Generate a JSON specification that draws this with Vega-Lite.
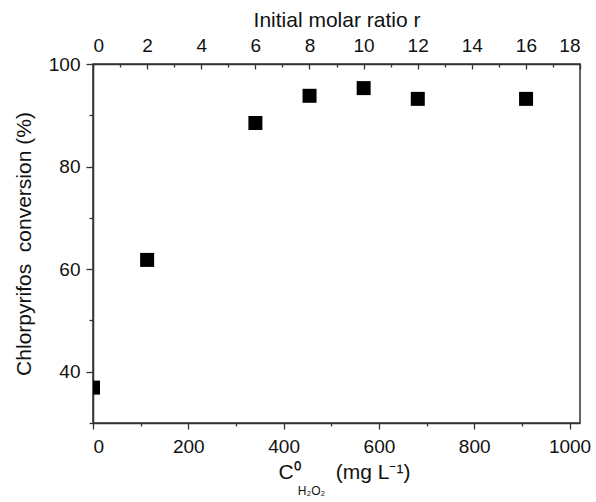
{
  "$schema": "https://vega.github.io/schema/vega-lite/v6.json",
  "width": 487,
  "height": 359,
  "autosize": "none",
  "padding": {"left": 93, "top": 64, "right": 16, "bottom": 79},
  "background": "white",
  "config": {
    "font": "Liberation Sans",
    "view": {"stroke": "#333", "strokeWidth": 1.5},
    "axis": {
      "grid": false,
      "domainColor": "#333",
      "domainWidth": 1.5,
      "tickColor": "#333",
      "tickWidth": 1.3,
      "labelFont": "Liberation Sans",
      "labelFontSize": 19,
      "labelColor": "#111",
      "titleFont": "Liberation Sans",
      "titleFontSize": 21,
      "titleFontWeight": "normal",
      "titleColor": "#111"
    }
  },
  "title": {
    "text": "H₂O₂",
    "orient": "bottom",
    "anchor": "middle",
    "fontSize": 12,
    "fontWeight": "normal",
    "font": "Liberation Sans",
    "color": "#111",
    "dx": -25,
    "offset": 4
  },
  "data": {
    "values": [
      {"C": 0, "r": 0, "conversion": 36.9},
      {"C": 113.6, "r": 2, "conversion": 61.8},
      {"C": 340.8, "r": 6, "conversion": 88.5},
      {"C": 454.4, "r": 8, "conversion": 93.8},
      {"C": 568, "r": 10, "conversion": 95.3},
      {"C": 681.6, "r": 12, "conversion": 93.2},
      {"C": 908.8, "r": 16, "conversion": 93.2}
    ]
  },
  "layer": [
    {
      "mark": {"type": "point", "shape": "square", "filled": true, "size": 196, "color": "#000", "opacity": 1, "clip": true},
      "encoding": {
        "x": {
          "field": "C",
          "type": "quantitative",
          "scale": {"domain": [0, 1022], "nice": false, "zero": false},
          "axis": {
            "orient": "bottom",
            "values": [0, 100, 200, 300, 400, 500, 600, 700, 800, 900, 1000],
            "format": "d",
            "labelExpr": "datum.value % 200 === 0 ? datum.label : ''",
            "tickSize": {"condition": {"test": "datum.value % 200 === 0", "value": 6}, "value": 3},
            "labelPadding": 8,
            "title": "C⁰\u00a0\u00a0\u00a0\u00a0\u00a0 (mg L⁻¹)",
            "titleX": 251,
            "titlePadding": 5
          }
        },
        "y": {
          "field": "conversion",
          "type": "quantitative",
          "scale": {"domain": [30, 100], "nice": false, "zero": false},
          "axis": {
            "values": [30, 40, 50, 60, 70, 80, 90, 100],
            "labelExpr": "datum.value % 20 === 0 ? datum.label : ''",
            "tickSize": {"condition": {"test": "datum.value % 20 === 0", "value": 7}, "value": 4},
            "labelPadding": 6,
            "title": "Chlorpyrifos\u00a0 conversion (%)",
            "titlePadding": 14
          }
        }
      }
    },
    {
      "mark": {"type": "point", "opacity": 0},
      "encoding": {
        "x": {
          "field": "r",
          "type": "quantitative",
          "scale": {"domain": [0, 18], "nice": false, "zero": false},
          "axis": {
            "orient": "top",
            "values": [0, 1, 2, 3, 4, 5, 6, 7, 8, 9, 10, 11, 12, 13, 14, 15, 16, 17, 18],
            "labelExpr": "datum.value % 2 === 0 ? datum.label : ''",
            "tickSize": {"condition": {"test": "datum.value % 2 === 0", "value": -5}, "value": -3},
            "labelPadding": 14,
            "title": "Initial molar ratio r",
            "titlePadding": 6
          }
        },
        "y": {"field": "conversion", "type": "quantitative"}
      }
    }
  ],
  "resolve": {"scale": {"x": "independent"}}
}
